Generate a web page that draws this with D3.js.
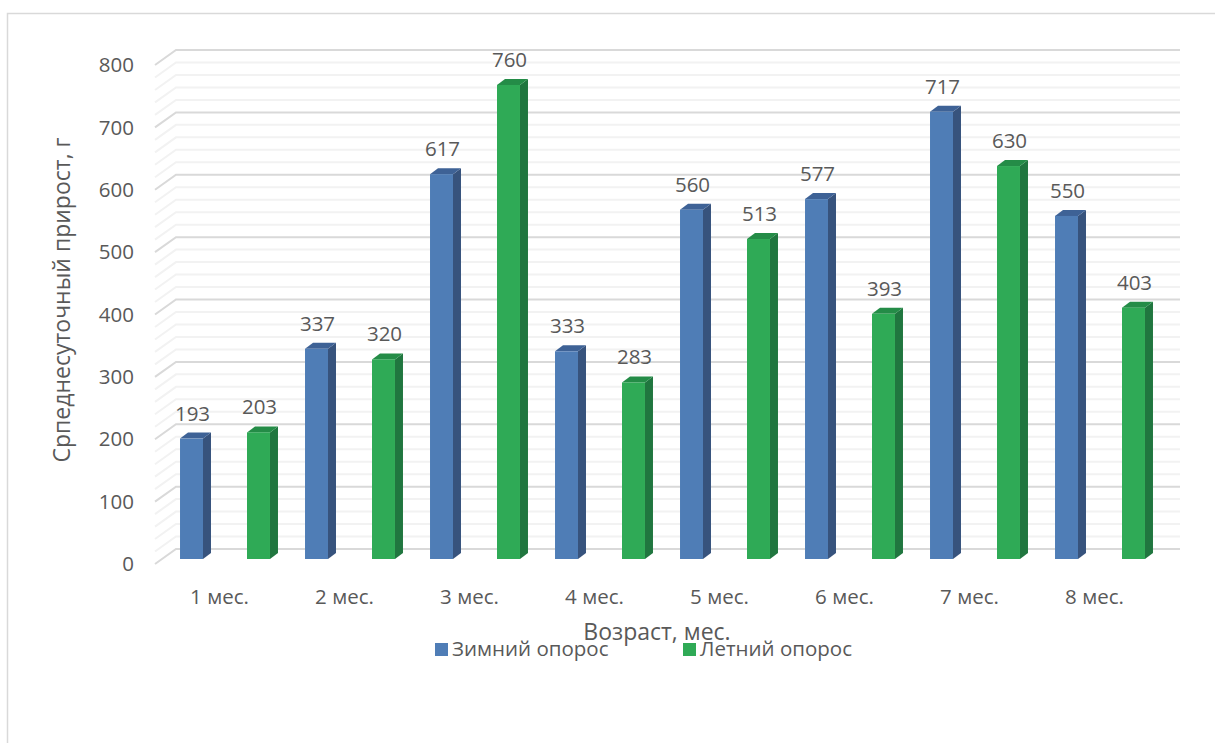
<!DOCTYPE html>
<html><head><meta charset="utf-8">
<script src="https://cdn.jsdelivr.net/npm/d3@7"></script>
<style>body{margin:0;background:#fff}svg{display:block}text{font-family:"Open Sans",sans-serif;fill:#595959}</style>
</head><body>
<script>
const categories = ["1 мес.","2 мес.","3 мес.","4 мес.","5 мес.","6 мес.","7 мес.","8 мес."];
const seriesNames = ["Зимний опорос","Летний опорос"];
const winter = [193,337,617,333,560,577,717,550];
const summer = [203,320,760,283,513,393,630,403];
const yTicks = [0,100,200,300,400,500,600,700,800];
const yTitle = "Српеднесуточный прирост, г";
const xTitle = "Возраст, мес.";

const W=1215,H=743, FS=20.5;
const svg=d3.select("body").append("svg").attr("width",W).attr("height",H);
svg.append("rect").attr("x",7.5).attr("y",13.5).attr("width",W).attr("height",H).attr("fill","#fff").attr("stroke","#d9d9d9").attr("stroke-width",1.5);

const colors=[{front:"#4f7db6",side:"#37537d",top:"#3e6296"},{front:"#2faa56",side:"#20763f",top:"#248c47"}];
const depthX=21, depthY=-15;
const barDX=8, barDY=-6;
const yBack=d3.scaleLinear().domain([0,800]).range([549,50]);
const yBar=d3.scaleLinear().domain([0,800]).range([559,60]);
const wallLeft=176, wallRight=1180;
const x=d3.scaleBand().domain(categories).range([157,1157]);
const xs=d3.scaleBand().domain([0,1]).range([0,x.bandwidth()]).paddingInner(0.657).paddingOuter(0.2615).align(0.657);

const minor=d3.range(0,801,20);
const g=svg.append("g");
minor.forEach(v=>{
  const major=v%100===0;
  const yb=yBack(v);
  g.append("path").attr("d",`M${wallLeft-depthX},${yb-depthY}L${wallLeft},${yb}L${wallRight},${yb}`)
   .attr("fill","none").attr("stroke",major?"#d9d9d9":"#f2f2f2").attr("stroke-width",2);
});

svg.append("g").selectAll("text").data(yTicks).join("text")
  .attr("x",134).attr("y",d=>yBack(d)-depthY).attr("dy","0.35em").attr("text-anchor","end")
  .attr("font-size",FS).text(d=>d);

const data=[];
categories.forEach((c,i)=>{[winter[i],summer[i]].forEach((v,s)=>data.push({c,s,v}));});
const bg=svg.append("g");
data.forEach(d=>{
  const x0=x(d.c)+xs(d.s), w=xs.bandwidth(), y0=yBar(d.v), yb=yBar(0);
  const col=colors[d.s];
  bg.append("path").attr("d",`M${x0+w},${y0}L${x0+w+barDX},${y0+barDY}L${x0+w+barDX},${yb+barDY}L${x0+w},${yb}Z`).attr("fill",col.side);
  bg.append("path").attr("d",`M${x0},${y0}L${x0+barDX},${y0+barDY}L${x0+w+barDX},${y0+barDY}L${x0+w},${y0}Z`).attr("fill",col.top);
  bg.append("rect").attr("x",x0).attr("y",y0).attr("width",w).attr("height",yb-y0).attr("fill",col.front);
  bg.append("text").attr("x",x0+w/2+1).attr("y",y0+barDY-12).attr("text-anchor","middle").attr("font-size",FS).text(d.v);
});

svg.append("g").selectAll("text").data(categories).join("text")
  .attr("x",d=>x(d)+x.bandwidth()/2).attr("y",604).attr("text-anchor","middle").attr("font-size",FS).text(d=>d);

svg.append("text").attr("transform","translate(70,300) rotate(-90)").attr("text-anchor","middle").attr("font-size",23).text(yTitle);
svg.append("text").attr("x",657).attr("y",640).attr("text-anchor","middle").attr("font-size",23).text(xTitle);

const lx=[435,683];
seriesNames.forEach((n,i)=>{
  svg.append("rect").attr("x",lx[i]).attr("y",643).attr("width",13).attr("height",13).attr("fill",colors[i].front);
  svg.append("text").attr("x",lx[i]+17).attr("y",656).attr("font-size",FS).text(n);
});
</script>
</body></html>
